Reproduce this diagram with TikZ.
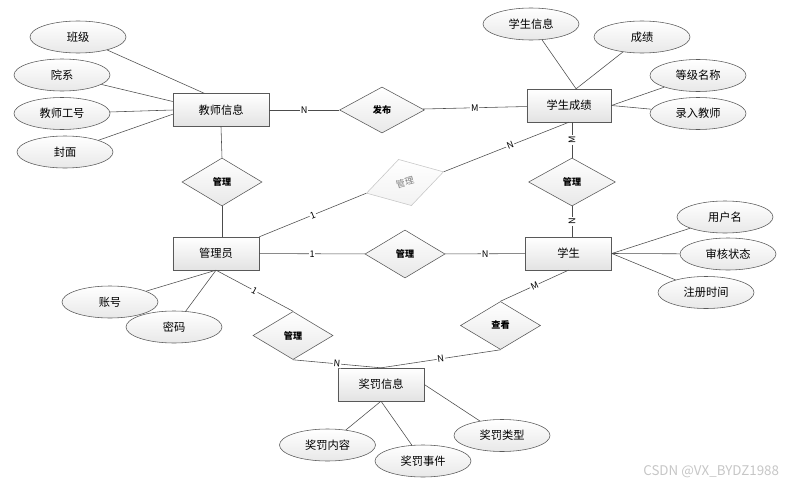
\documentclass[tikz,border=0pt]{standalone}
\usepackage{fontspec}
\setmainfont{Noto Sans CJK SC}
\usepackage{xcolor}
\usetikzlibrary{shapes,arrows,positioning}

\begin{document}
\begin{tikzpicture}[
    x=0.025cm, y=-0.025cm,
    entity/.style={draw=gray!70!black, rectangle, top color=white, bottom color=gray!22, minimum width=2.15cm, minimum height=0.82cm, font=\fontsize{8}{9}\selectfont},
    attr/.style={draw=gray!70!black, ellipse, top color=white, bottom color=gray!18, minimum width=2.4cm, minimum height=0.8cm, font=\fontsize{8}{9}\selectfont},
    rel/.style={draw=gray!70!black, diamond, top color=white, bottom color=gray!18, minimum width=2cm, minimum height=1.2cm, inner sep=0pt, font=\fontsize{6.5}{7}\selectfont\bfseries},
    link/.style={draw=gray!60!black, thin},
    card/.style={fill=white, inner sep=0.6pt, font=\fontsize{6.5}{7}\selectfont}
]
\useasboundingbox (0,0) rectangle (791,487);

\node[entity, minimum width=2.4cm] (teacher) at (221,110) {教师信息};
\node[entity, minimum width=2.1cm] (grade) at (569,105.5) {学生成绩};
\node[entity] (admin) at (216,253.5) {管理员};
\node[entity] (student) at (568.5,253.5) {学生};
\node[entity] (reward) at (381,384.5) {奖罚信息};

\node[rel, minimum width=2.12cm, minimum height=1.15cm] (pub) at (382,110) {发布};
\node[rel] (tmg) at (222,182) {管理};
\node[rel, rotate=15.5, draw=gray!45, text=gray, bottom color=gray!10, font=\fontsize{6.5}{7}\selectfont] (smg) at (405,182.5) {管理};
\node[rel] (amg) at (405,254) {管理};
\node[rel, minimum width=2.17cm] (gmg) at (572,182) {管理};
\node[rel] (rmg) at (293,335.5) {管理};
\node[rel] (look) at (500.5,325.5) {查看};

\node[attr] (bj) at (78,37) {班级};
\node[attr] (yx) at (62,75) {院系};
\node[attr] (gh) at (62,113.5) {教师工号};
\node[attr] (fm) at (65,152) {封面};
\node[attr] (xsxx) at (531,24) {学生信息};
\node[attr] (cj) at (642,37) {成绩};
\node[attr] (djmc) at (698,75.5) {等级名称};
\node[attr] (lrjs) at (698,113.5) {录入教师};
\node[attr] (yhm) at (725,217) {用户名};
\node[attr] (shzt) at (728,254) {审核状态};
\node[attr] (zcsj) at (706,292.5) {注册时间};
\node[attr] (zh) at (110,302) {账号};
\node[attr] (mm) at (174,327) {密码};
\node[attr] (jfnr) at (327.5,445) {奖罚内容};
\node[attr] (jfsj) at (423,461) {奖罚事件};
\node[attr] (jflx) at (502,435.5) {奖罚类型};

\node[text=gray!45, font=\fontsize{9.5}{11}\selectfont, anchor=east] (mark) at (784,472) {CSDN @VX\_BYDZ1988};

\draw[link] (bj) -- (teacher.135);
\draw[link] (yx) -- (teacher.170);
\draw[link] (gh) -- (teacher.west);
\draw[link] (fm) -- (teacher.185);
\draw[link] (xsxx) -- (grade.67);
\draw[link] (cj) -- (grade.67);
\draw[link] (djmc) -- (grade.east);
\draw[link] (lrjs) -- (grade.east);
\draw[link] (yhm) -- (student.east);
\draw[link] (shzt) -- (student.east);
\draw[link] (zcsj) -- (student.east);
\draw[link] (zh) -- (admin.south);
\draw[link] (mm) -- (admin.south);
\draw[link] (jfnr) -- (reward.south);
\draw[link] (jfsj) -- (reward.south);
\draw[link] (jflx) -- (reward.east);

\draw[link] (teacher) -- node[card] {N} (pub);
\draw[link] (pub) -- node[card] {M} (grade);
\draw[link] (teacher.south) -- (tmg.north);
\draw[link] (tmg.south) -- (tmg.south |- admin.north);
\draw[link] (admin.north east) -- node[card, sloped] {1} (smg.west);
\draw[link] (smg.east) -- node[card, sloped, pos=0.53] {N} (grade.south);
\draw[link] (admin) -- node[card] {1} (amg);
\draw[link] (amg) -- node[card] {N} (student);
\draw[link] (gmg.north) -- node[card, rotate=90] {M} (gmg.north |- grade.south);
\draw[link] (gmg.south) -- node[card, rotate=90] {N} (gmg.south |- student.north);
\draw[link] (admin.south) -- node[card, sloped] {1} (rmg.north);
\draw[link] (rmg.south) -- node[card, sloped] {N} (reward.north);
\draw[link] (student.south) -- node[card, sloped] {M} (look.north);
\draw[link] (look.south) -- node[card, sloped] {N} (reward.north);

\end{tikzpicture}
\end{document}
